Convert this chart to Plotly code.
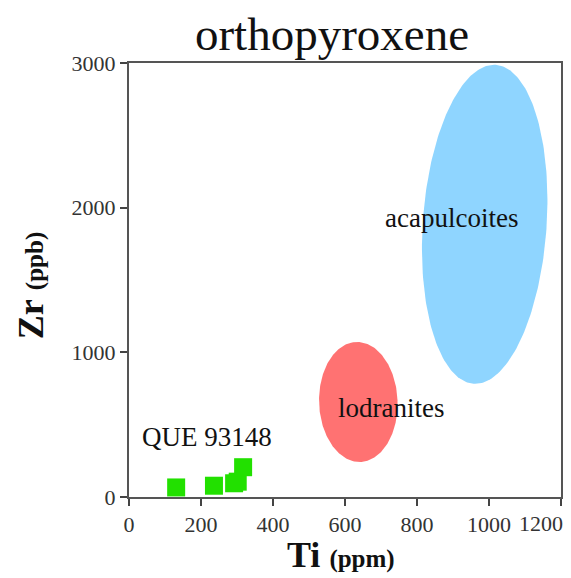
import numpy as np
import plotly.graph_objects as go

# --- data ---
x_range = [0, 1200]
y_range = [0, 3000]
x_tickvals = [0, 200, 400, 600, 800, 1000, 1200]
x_ticktext = ["0", "200", "400", "600", "800", "1000", ""]
y_tickvals = [0, 1000, 2000, 3000]

que_ti = [131, 236, 292, 302, 317]
que_zr = [66, 78, 95, 106, 206]

field_names = ["acapulcoites", "lodranites"]
field_cx = [988, 637]
field_cy = [1885, 657]
field_rx = [172, 109]
field_ry = [1105, 415]
field_angle = [-4.0, 2.0]
field_colors = ["#8fd5ff", "#ff7272"]
field_label_x = [896, 727]
field_label_y = [1928, 615]

que_label = "QUE 93148"
que_label_x = 216
que_label_y = 415

SERIF = "Liberation Serif, Times New Roman, serif"

fig = go.Figure()

xspan = x_range[1] - x_range[0]
yspan = y_range[1] - y_range[0]
t = np.linspace(0, 2 * np.pi, 241)
for name, cx, cy, rx, ry, ang, col in zip(field_names, field_cx, field_cy, field_rx,
                                          field_ry, field_angle, field_colors):
    th = np.deg2rad(ang)
    u = rx / xspan * np.cos(t)
    v = ry / yspan * np.sin(t)
    uu = u * np.cos(th) - v * np.sin(th)
    vv = u * np.sin(th) + v * np.cos(th)
    fig.add_trace(go.Scatter(
        x=cx + uu * xspan, y=cy + vv * yspan, mode="lines", fill="toself",
        fillcolor=col, line=dict(width=0, color=col), hoverinfo="skip",
        showlegend=False, name=name))

fig.add_trace(go.Scatter(
    x=que_ti, y=que_zr, mode="markers",
    marker=dict(symbol="square", size=18, color="#22e000", line=dict(width=0)),
    showlegend=False, name=que_label))

annotations = []
for name, lx, ly in zip(field_names, field_label_x, field_label_y):
    annotations.append(dict(x=lx, y=ly, xref="x", yref="y", text=name, showarrow=False,
                            font=dict(family=SERIF, size=27, color="#111")))
annotations.append(dict(x=que_label_x, y=que_label_y, xref="x", yref="y", text=que_label,
                        showarrow=False, font=dict(family=SERIF, size=27, color="#111")))
# last x tick label, kept inside the canvas
annotations.append(dict(x=1200, y=0, xref="x", yref="paper", text="1200", showarrow=False,
                        xanchor="right", yanchor="top", yshift=-12, xshift=4,
                        font=dict(family=SERIF, size=22, color="#333")))
# axis titles
annotations.append(dict(x=0.49, y=0, xref="paper", yref="paper", showarrow=False,
                        xanchor="center", yanchor="top", yshift=-36,
                        text="<b>Ti</b> <span style='font-size:25px'><b>(ppm)</b></span>",
                        font=dict(family=SERIF, size=36, color="#111")))
annotations.append(dict(x=-0.228, y=0.487, xref="paper", yref="paper", showarrow=False,
                        xanchor="center", yanchor="middle", textangle=-90,
                        text="<b>Zr</b> <span style='font-size:25px'><b>(ppb)</b></span>",
                        font=dict(family=SERIF, size=36, color="#111")))

axis_common = dict(showgrid=False, zeroline=False, showline=True, linecolor="#555",
                   linewidth=2, mirror=True, ticks="outside", ticklen=7, tickwidth=2,
                   tickcolor="#444", tickfont=dict(family=SERIF, size=22, color="#333"))

# the page body adds an 8 px offset, so the figure is 8 px smaller each way
fig.update_layout(
    width=563, height=570,
    margin=dict(l=121, r=8, t=55, b=81),
    paper_bgcolor="white", plot_bgcolor="white",
    title=dict(text="orthopyroxene", x=0.5755, xanchor="center", y=0.955, yanchor="middle",
               font=dict(family=SERIF, size=47, color="#111")),
    xaxis=dict(range=x_range, tickvals=x_tickvals, ticktext=x_ticktext, **axis_common),
    yaxis=dict(range=y_range, tickvals=y_tickvals, **axis_common),
    annotations=annotations,
)

fig.write_html("out.html")
